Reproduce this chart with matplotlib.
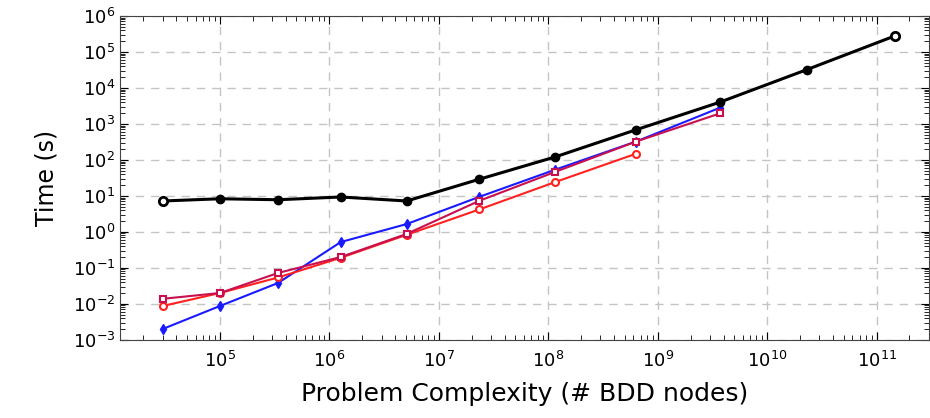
import matplotlib
matplotlib.use('Agg')
import matplotlib.pyplot as plt
import numpy as np
from matplotlib.ticker import LogLocator, FixedLocator, NullFormatter

# problem sizes (# BDD nodes)
nodes = [3.0e4, 1.0e5, 3.4e5, 1.27e6, 5.1e6, 2.35e7, 1.15e8, 6.3e8, 3.7e9, 2.3e10, 1.48e11]

t_black = [7.2, 8.3, 7.8, 9.3, 7.2, 29, 120, 680, 4000, 32000, 2.8e5]
t_blue = [0.002, 0.0087, 0.038, 0.52, 1.65, 9.4, 53, 320, 2800]
t_red = [0.0087, 0.020, 0.054, 0.19, 0.83, 4.2, 24, 147]
t_purple = [0.0138, 0.020, 0.072, 0.20, 0.88, 7.3, 46, 320, 1950]

x_major = [1e5, 1e6, 1e7, 1e8, 1e9, 1e10, 1e11]
y_major = [1e-3, 1e-2, 1e-1, 1e0, 1e1, 1e2, 1e3, 1e4, 1e5, 1e6]

fs = 16
fig = plt.figure(figsize=(9.3, 4.18), dpi=100)
ax = fig.add_axes([0.129, 0.187, 0.87, 0.775])

ax.plot(nodes[:len(t_blue)], t_blue, '-d', color='#1a1aff', lw=1.5, ms=5, mfc='#1a1aff', mec='#1a1aff')
ax.plot(nodes[:len(t_red)], t_red, '-o', color='#ff2020', lw=1.5, ms=5, mfc='white', mew=1.5)
ax.plot(nodes[:len(t_purple)], t_purple, '-s', color='#c8104f', lw=1.5, ms=5, mfc='white', mew=1.5)
ax.plot(nodes, t_black, '-o', color='k', lw=2.2, ms=6, mfc='k')
# open markers at the ends of the black series
ax.plot([nodes[0], nodes[-1]], [t_black[0], t_black[-1]], 'o', color='k', ms=6, mfc='white', mew=2)

ax.set_xscale('log')
ax.set_yscale('log')
ax.set_xlim(10**4.087, 10**11.48)
ax.set_ylim(1e-3, 1e6)

ax.xaxis.set_major_locator(FixedLocator(x_major))
ax.xaxis.set_minor_locator(LogLocator(base=10, subs=np.arange(2, 10), numticks=20))
ax.yaxis.set_major_locator(FixedLocator(y_major))
ax.yaxis.set_minor_locator(LogLocator(base=10, subs=np.arange(2, 10), numticks=20))
ax.xaxis.set_minor_formatter(NullFormatter())
ax.yaxis.set_minor_formatter(NullFormatter())

ax.grid(True, which='major', ls=(0, (6, 5)), color='#c4c4c4', lw=1)
ax.tick_params(which='both', direction='in', top=True, right=True, labelsize=fs - 3)
ax.tick_params(axis='x', pad=8)
ax.tick_params(which='major', length=6)
ax.tick_params(which='minor', length=3.5)
for s in ax.spines.values():
    s.set_color('#444444')

ax.set_xlabel('Problem Complexity (# BDD nodes)', fontsize=fs + 2, labelpad=8)
ax.set_ylabel('Time (s)', fontsize=fs + 1, labelpad=10)

plt.savefig('out.png', dpi=100)
plt.close()
